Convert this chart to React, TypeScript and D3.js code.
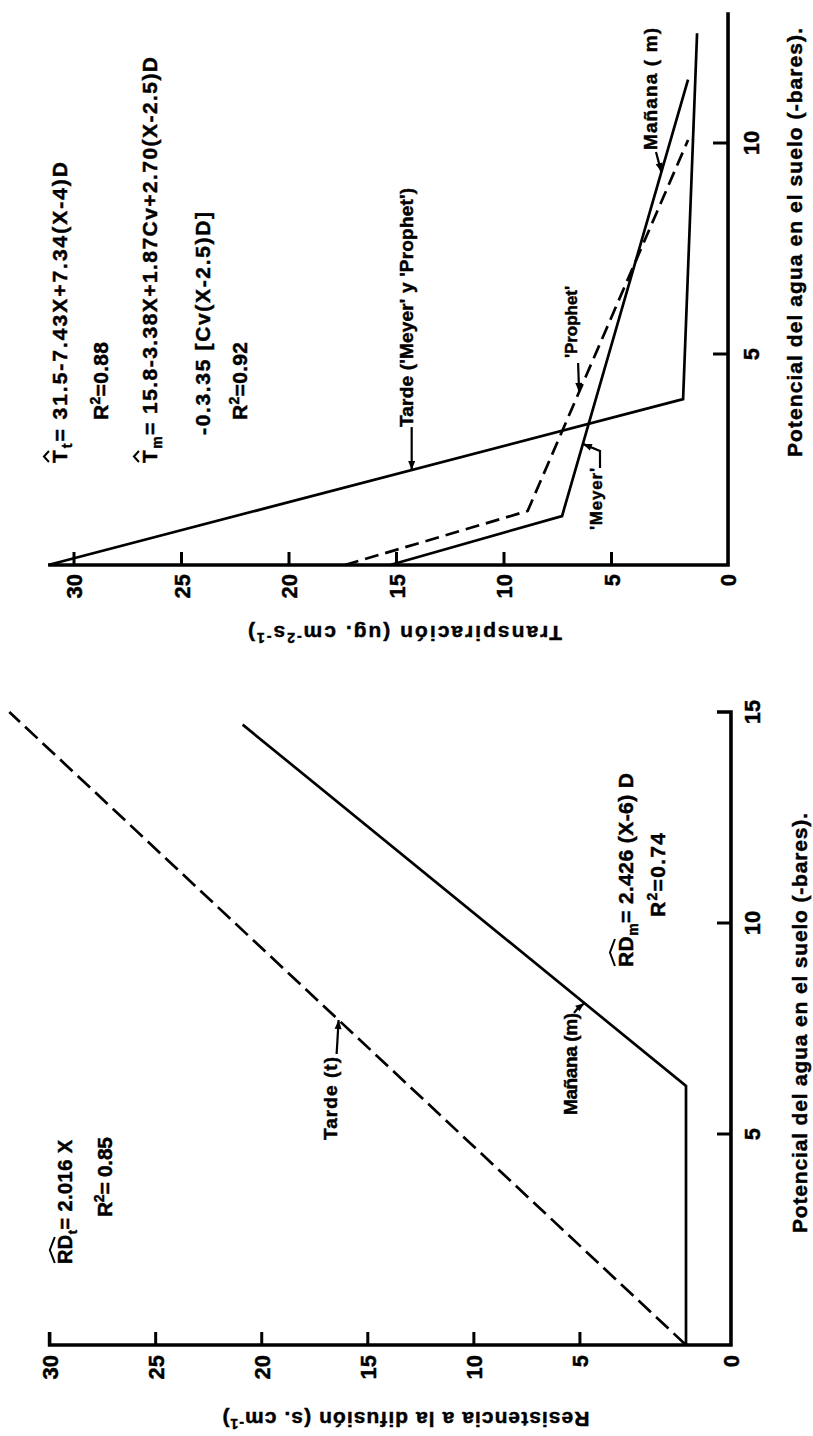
import React from "react";
import * as d3 from "d3";

const FONT = "'Liberation Sans', Arial, sans-serif";

// tick values
const potTicksTop = [5, 10];
const transTicks = [5, 10, 15, 20, 25, 30];
const potTicksBottom = [5, 10, 15];
const resTicks = [5, 10, 15, 20, 25, 30];

// panel 1: Transpiración vs potencial
const tardePot = [0, 3.93, 12.6];
const tardeTrans = [31.2, 1.67, 1.02];
const meyerPot = [0, 1.16, 11.5];
const meyerTrans = [15.3, 7.3, 1.44];
const prophetPot = [0, 1.28, 10.07];
const prophetTrans = [17.4, 8.9, 1.44];

// panel 2: Resistencia a la difusión vs potencial
const tardeResPot = [0, 15];
const tardeRes = [0, 31.9];
const mananaResPot = [0, 6.14, 14.7];
const mananaRes = [0, 0, 20.9];

// scales (figure is printed turned 90deg, so potencial runs up the page)
const potTop = d3.scaleLinear().domain([0, 10]).range([565, 143]);
const trans = d3.scaleLinear().domain([0, 30]).range([719, 74]);
const potBot = d3.scaleLinear().domain([0, 15]).range([1345, 712]);
const res = d3.scaleLinear().domain([0, 30]).range([686, 49.6]);

const topOrigin = -0.42; // axes corner sits a bit off the data zero
const botOrigin = -2.12;

function VText({ x, y, len, size = 21, rot = -90, anchor = "start", children }: any) {
  return (
    <text
      transform={`translate(${x},${y}) rotate(${rot})`}
      fontSize={size}
      fontWeight="bold"
      textAnchor={anchor}
      textLength={len}
      lengthAdjust={len ? "spacing" : undefined}
      stroke="#000"
      strokeWidth={0.45}
    >
      {children}
    </text>
  );
}

function Hat({ x, y, w, size = 21 }: any) {
  const c = size * 0.86;
  return (
    <path
      transform={`translate(${x},${y}) rotate(-90)`}
      d={`M1,${-c}L${w / 2},${-c - 5}L${w - 1},${-c}`}
      fill="none"
      stroke="#000"
      strokeWidth={2}
    />
  );
}

function Arrow({ pts }: any) {
  const n = pts.length;
  const [x1, y1] = pts[n - 2];
  const [x2, y2] = pts[n - 1];
  const a = Math.atan2(y2 - y1, x2 - x1);
  const L = 9, w = 3.5;
  const bx = x2 - L * Math.cos(a), by = y2 - L * Math.sin(a);
  const p1 = [bx + w * Math.sin(a), by - w * Math.cos(a)];
  const p2 = [bx - w * Math.sin(a), by + w * Math.cos(a)];
  return (
    <g>
      <path d={d3.line()(pts) || ""} fill="none" stroke="#000" strokeWidth={2.2} />
      <path d={`M${x2},${y2}L${p1[0]},${p1[1]}L${p2[0]},${p2[1]}Z`} fill="#000" />
    </g>
  );
}

export default function App() {
  const lineTop = d3.line<[number, number]>().x((d) => trans(d[1])).y((d) => potTop(d[0]));
  const lineBot = d3.line<[number, number]>().x((d) => res(d[1])).y((d) => potBot(d[0]));

  const along = (p: number[], v: number[]) => d3.scaleLinear().domain(p).range(v);
  const tipTop = (p: number[], v: number[], at: number) => [trans(along(p, v)(at)), potTop(at)];
  const tipBot = (p: number[], v: number[], at: number) => [res(along(p, v)(at)), potBot(at)];

  const cTop = trans(topOrigin);
  const cBot = res(botOrigin);
  const yTop = potTop(0);
  const yBot = potBot(0);

  const aTarde = tipTop(tardePot, tardeTrans, 2.25);
  const aProphet = tipTop(prophetPot, prophetTrans, 4.1);
  const aMeyer = tipTop(meyerPot, meyerTrans, 2.87);
  const aManana = tipTop(meyerPot, meyerTrans, 9.31);
  const bTarde = tipBot(tardeResPot, tardeRes, 7.7);
  const bManana = tipBot(mananaResPot, mananaRes, 8.1);

  return (
    <svg
      width={813}
      height={1436}
      style={{ position: "absolute", left: 0, top: 0, background: "#fff" }}
      fontFamily={FONT}
    >
      {/* ---------- panel 1: transpiración ---------- */}
      <g stroke="#000" fill="none">
        <path d={`M${cTop},${potTop(13.1)}V${yTop}H${trans(31.2)}`} strokeWidth={3.6} />
        {potTicksTop.map((t) => (
          <line key={t} x1={cTop} x2={cTop - 15} y1={potTop(t)} y2={potTop(t)} strokeWidth={3} />
        ))}
        {transTicks.map((t) => (
          <line key={t} x1={trans(t)} x2={trans(t)} y1={yTop} y2={yTop - 13} strokeWidth={3} />
        ))}
        <path d={lineTop(d3.zip(tardePot, tardeTrans) as any) || ""} strokeWidth={2.7} />
        <path d={lineTop(d3.zip(meyerPot, meyerTrans) as any) || ""} strokeWidth={2.7} />
        <path
          d={lineTop(d3.zip(prophetPot, prophetTrans) as any) || ""}
          strokeWidth={2.7}
          strokeDasharray="14 7"
        />
      </g>
      <g fill="#000">
        <VText x={cTop + 8} y={yTop + 9} anchor="end" size={22}>0</VText>
        {transTicks.map((t) => (
          <VText key={t} x={trans(t) + 8} y={yTop + 9} anchor="end" size={22}>{t}</VText>
        ))}
        {potTicksTop.map((t) => (
          <VText key={t} x={759} y={potTop(t)} anchor="middle" size={22}>{t}</VText>
        ))}
        <VText x={802} y={457} len={429} size={21}>Potencial del agua en el suelo (-bares).</VText>
        <VText x={405} y={626} rot={180} anchor="middle" len={314} size={21}>
          Transpiración (ug. cm<tspan dy={-7} fontSize={14}>-2</tspan>
          <tspan dy={7}>s</tspan>
          <tspan dy={-7} fontSize={14}>-1</tspan>
          <tspan dy={7}>)</tspan>
        </VText>

        <VText x={67} y={463} len={301}>
          T<tspan dy={5} fontSize={14}>t</tspan>
          <tspan dy={-5}>= 31.5-7.43X+7.34(X-4)D</tspan>
        </VText>
        <Hat x={67} y={463} w={13} />
        <VText x={108} y={420} len={78}>
          R<tspan dy={-8} fontSize={14}>2</tspan>
          <tspan dy={8}>=0.88</tspan>
        </VText>
        <VText x={157} y={463} len={406}>
          T<tspan dy={5} fontSize={14}>m</tspan>
          <tspan dy={-5}>= 15.8-3.38X+1.87Cv+2.70(X-2.5)D</tspan>
        </VText>
        <Hat x={157} y={463} w={13} />
        <VText x={210} y={435} len={223}>-0.3.35 [Cv(X-2.5)D]</VText>
        <VText x={247} y={420} len={78}>
          R<tspan dy={-8} fontSize={14}>2</tspan>
          <tspan dy={8}>=0.92</tspan>
        </VText>

        <VText x={413} y={427} len={239} size={19}>Tarde ('Meyer' y 'Prophet')</VText>
        <VText x={577} y={358} len={72} size={17}>'Prophet'</VText>
        <VText x={602} y={530} len={62} size={17}>'Meyer'</VText>
        <VText x={657} y={150} len={122} size={19}>Mañana ( m)</VText>
      </g>
      <Arrow pts={[[aTarde[0], aTarde[1] - 43], aTarde]} />
      <Arrow pts={[[aProphet[0] - 1, aProphet[1] - 29], aProphet]} />
      <Arrow pts={[[600, 468], [600, 451], aMeyer]} />
      <Arrow pts={[[656, 152], aManana]} />

      {/* ---------- panel 2: resistencia ---------- */}
      <g stroke="#000" fill="none">
        <path d={`M${cBot - 14},${potBot(15)}H${cBot}V${yBot}H${res(30)}V${yBot - 13}`} strokeWidth={3.6} />
        {potTicksBottom.slice(0, -1).map((t) => (
          <line key={t} x1={cBot} x2={cBot - 14} y1={potBot(t)} y2={potBot(t)} strokeWidth={3} />
        ))}
        {resTicks.slice(0, -1).map((t) => (
          <line key={t} x1={res(t)} x2={res(t)} y1={yBot} y2={yBot - 13} strokeWidth={3} />
        ))}
        <path
          d={lineBot(d3.zip(tardeResPot, tardeRes) as any) || ""}
          strokeWidth={2.7}
          strokeDasharray="17 7"
        />
        <path d={lineBot(d3.zip(mananaResPot, mananaRes) as any) || ""} strokeWidth={2.7} />
      </g>
      <g fill="#000">
        <VText x={cBot + 8} y={yBot + 10} anchor="end" size={22}>0</VText>
        {resTicks.map((t) => (
          <VText key={t} x={res(t) + 8} y={yBot + 10} anchor="end" size={22}>{t}</VText>
        ))}
        {potTicksBottom.map((t) => (
          <VText key={t} x={760} y={potBot(t)} anchor="middle" size={22}>{t}</VText>
        ))}
        <VText x={807} y={1233} len={420} size={21}>Potencial del agua en el suelo (-bares).</VText>
        <VText x={406} y={1412} rot={180} anchor="middle" len={367} size={21}>
          Resistencia a la difusión (s. cm<tspan dy={-7} fontSize={14}>-1</tspan>
          <tspan dy={7}>)</tspan>
        </VText>

        <VText x={72} y={1264} len={124} size={20}>
          RD<tspan dy={5} fontSize={13}>t</tspan>
          <tspan dy={-5}>= 2.016 X</tspan>
        </VText>
        <Hat x={72} y={1264} w={28} size={20} />
        <VText x={112} y={1217} len={80}>
          R<tspan dy={-8} fontSize={14}>2</tspan>
          <tspan dy={8}>= 0.85</tspan>
        </VText>
        <VText x={633} y={967} len={194}>
          RD<tspan dy={5} fontSize={14}>m</tspan>
          <tspan dy={-5}>= 2.426 (X-6) D</tspan>
        </VText>
        <Hat x={633} y={967} w={29} />
        <VText x={665} y={917} len={84}>
          R<tspan dy={-8} fontSize={14}>2</tspan>
          <tspan dy={8}>=0.74</tspan>
        </VText>

        <VText x={337} y={1140} len={83} size={19}>Tarde (t)</VText>
        <VText x={577} y={1115} len={102} size={19}>Mañana (m)</VText>
      </g>
      <Arrow pts={[[bTarde[0] - 2, bTarde[1] + 34], bTarde]} />
      <Arrow pts={[[574, 1013], [578, 1008], bManana]} />
    </svg>
  );
}
